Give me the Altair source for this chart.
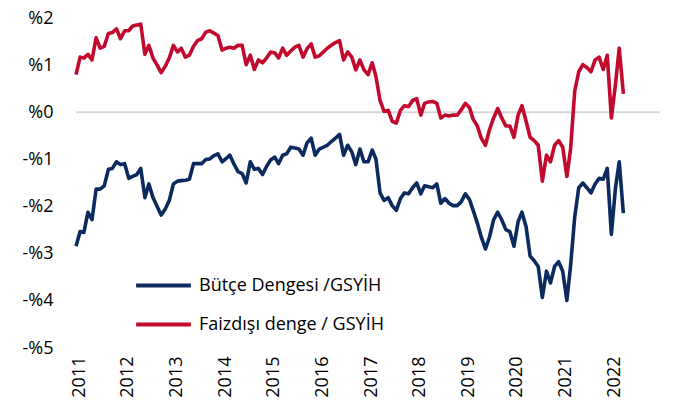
import altair as alt
import pandas as pd

# Monthly series, Jan 2011 onward (percent of GDP)
butce = [
    -2.84, -2.53, -2.55, -2.12, -2.28, -1.63, -1.63, -1.56, -1.21, -1.19, -1.05, -1.11,
    -1.09, -1.40, -1.36, -1.32, -1.19, -1.81, -1.52, -1.81, -2.00, -2.18, -2.05, -1.87,
    -1.52, -1.46, -1.45, -1.44, -1.42, -1.09, -1.09, -1.09, -1.00, -0.99, -0.92, -0.88,
    -1.05, -0.98, -0.91, -1.10, -1.26, -1.30, -1.50, -1.05, -1.21, -1.19, -1.32, -1.15,
    -1.01, -0.95, -1.09, -0.91, -0.88, -0.74, -0.76, -0.78, -0.91, -0.65, -0.55, -0.91,
    -0.78, -0.74, -0.70, -0.62, -0.55, -0.47, -0.91, -0.70, -0.84, -1.11, -0.78, -1.05,
    -1.05, -0.80, -0.99, -1.71, -1.87, -1.81, -1.98, -2.08, -1.83, -1.71, -1.73, -1.60,
    -1.50, -1.73, -1.56, -1.58, -1.60, -1.52, -1.93, -1.83, -1.93, -1.98, -1.98, -1.90,
    -1.73, -1.85, -2.08, -2.35, -2.65, -2.90, -2.65, -2.28, -2.12, -2.28, -2.49, -2.53,
    -2.84, -2.32, -2.12, -2.43, -3.05, -3.15, -3.27, -3.93, -3.37, -3.62, -3.27, -3.17,
    -3.37, -3.99, -3.25, -2.22, -1.60, -1.50, -1.60, -1.71, -1.52, -1.40, -1.42, -1.19,
    -2.59, -1.60, -1.05, -2.14,
]
faiz = [
    0.80, 1.17, 1.15, 1.23, 1.11, 1.58, 1.36, 1.40, 1.67, 1.69, 1.77, 1.56,
    1.73, 1.73, 1.83, 1.85, 1.87, 1.23, 1.42, 1.15, 1.00, 0.84, 0.98, 1.15,
    1.42, 1.28, 1.36, 1.17, 1.21, 1.40, 1.52, 1.56, 1.70, 1.73, 1.68, 1.63,
    1.32, 1.36, 1.38, 1.36, 1.42, 1.42, 1.01, 1.21, 0.91, 1.11, 1.05, 1.15,
    1.28, 1.26, 1.15, 1.36, 1.21, 1.30, 1.38, 1.42, 1.17, 1.35, 1.45, 1.17,
    1.20, 1.28, 1.36, 1.42, 1.48, 1.52, 1.11, 1.28, 1.17, 0.90, 1.11, 0.90,
    0.80, 1.05, 0.76, 0.25, 0.02, 0.04, -0.19, -0.23, 0.04, 0.14, 0.12, 0.25,
    0.29, -0.06, 0.19, 0.22, 0.23, 0.19, -0.12, -0.06, -0.08, -0.06, -0.06, 0.05,
    0.19, 0.10, -0.15, -0.29, -0.55, -0.70, -0.37, -0.12, 0.08, -0.12, -0.29, -0.29,
    -0.53, -0.06, 0.14, -0.19, -0.53, -0.60, -0.70, -1.46, -0.91, -1.05, -0.70, -0.60,
    -0.74, -1.36, -0.78, 0.45, 0.86, 1.01, 0.95, 0.86, 1.11, 1.17, 0.91, 1.21,
    -0.12, 0.60, 1.36, 0.39,
]
series_names = ["Bütçe Dengesi /GSYİH", "Faizdışı denge / GSYİH"]
colors = ["#0C2A5E", "#C20A2E"]
years = list(range(2011, 2023))
y_ticks = [-5, -4, -3, -2, -1, 0, 1, 2]

dates = pd.date_range("2011-01-01", periods=len(butce), freq="MS").strftime("%Y-%m-%d").tolist()
df = pd.DataFrame({
    "date": dates + dates,
    "value": butce + faiz,
    "series": [series_names[0]] * len(butce) + [series_names[1]] * len(faiz),
})

FONT = "Open Sans"

zero = alt.Chart(pd.DataFrame({"z": [0]})).mark_rule(color="#D9D9D9", strokeWidth=2).encode(
    y=alt.Y("z:Q", scale=alt.Scale(domain=[-5, 2], nice=False))
)

lines = alt.Chart(df).mark_line(strokeWidth=3.6, strokeJoin="round").encode(
    x=alt.X(
        "date:T",
        scale=alt.Scale(domain=[alt.DateTime(year=2011, month=1, date=1),
                                alt.DateTime(year=2023, month=1, date=1)]),
        axis=alt.Axis(
            title=None, format="%Y", labelAngle=270,
            values=[alt.DateTime(year=y, month=1, date=1) for y in years],
            domain=False, ticks=False, grid=False, labelPadding=8,
            labelOffset=3, labelFontSize=18, labelFont=FONT, labelColor="#000000",
        ),
    ),
    y=alt.Y(
        "value:Q",
        scale=alt.Scale(domain=[-5, 2], nice=False),
        axis=alt.Axis(
            title=None, values=y_ticks, grid=False, domain=False, ticks=False,
            labelExpr="datum.value < 0 ? '-%' + abs(datum.value) : '%' + datum.value",
            labelPadding=23, labelFontSize=18, labelFont=FONT, labelColor="#000000",
        ),
    ),
    color=alt.Color(
        "series:N",
        scale=alt.Scale(domain=series_names, range=colors),
        legend=alt.Legend(
            title=None, orient="none", legendX=58, legendY=238,
            symbolType="stroke", symbolSize=3000, symbolStrokeWidth=4,
            labelFontSize=18, labelFont=FONT, labelColor="#000000",
            labelOffset=6, rowPadding=-9, padding=0, labelLimit=400,
        ),
    ),
)

chart = alt.layer(zero, lines).properties(
    width=584, height=330,
    autosize=alt.AutoSizeParams(type="none"),
    padding={"left": 68, "top": 10, "right": 7, "bottom": 50},
).configure_view(stroke=None)

chart.save("out.html", embed_options={"renderer": "svg", "actions": False})
